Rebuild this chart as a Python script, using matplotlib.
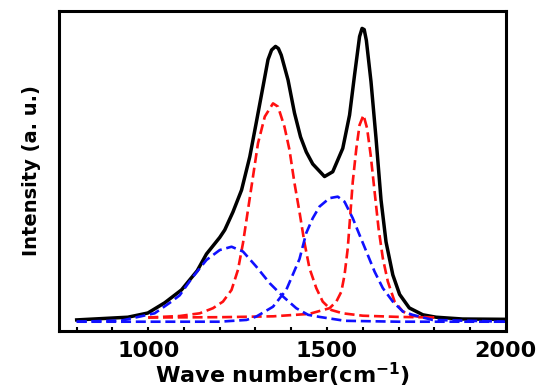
import matplotlib
matplotlib.use("Agg")
import matplotlib.pyplot as plt
from matplotlib.ticker import MultipleLocator

# values (intensity in arbitrary units)
total_x = [800, 943, 999, 1046, 1093, 1137, 1163, 1200, 1214, 1237, 1261,
           1284, 1302, 1321, 1335, 1345, 1356, 1364, 1372, 1391, 1409, 1426,
           1442, 1460, 1493, 1516, 1544, 1563, 1577, 1591, 1598, 1604, 1610,
           1623, 1637, 1651, 1665, 1684, 1703, 1730, 1768, 1805, 1879, 2000]
total_y = [0.0, 0.009, 0.023, 0.057, 0.10, 0.164, 0.22, 0.275, 0.30, 0.36,
           0.433, 0.544, 0.657, 0.778, 0.868, 0.9, 0.912, 0.905, 0.883, 0.80,
           0.69, 0.61, 0.56, 0.52, 0.478, 0.494, 0.572, 0.683, 0.817, 0.945,
           0.972, 0.968, 0.932, 0.794, 0.606, 0.40, 0.26, 0.15, 0.085, 0.04,
           0.017, 0.009, 0.003, 0.002]

d_band_x = [1000, 1088, 1144, 1181, 1209, 1233, 1251, 1265, 1279, 1293, 1307,
            1326, 1349, 1363, 1381, 1395, 1409, 1423, 1437, 1451, 1470, 1488,
            1512, 1544, 1600, 1700, 1800]
d_band_y = [0.008, 0.013, 0.022, 0.039, 0.061, 0.10, 0.167, 0.256, 0.367,
            0.478, 0.589, 0.678, 0.722, 0.711, 0.644, 0.567, 0.456, 0.36,
            0.257, 0.172, 0.106, 0.061, 0.033, 0.022, 0.014, 0.01, 0.008]

g_band_x = [1000, 1200, 1350, 1450, 1507, 1526, 1540, 1549, 1558, 1565, 1572,
            1582, 1591, 1602, 1612, 1622, 1633, 1644, 1656, 1670, 1689, 1712,
            1740, 1777, 1800]
g_band_y = [0.008, 0.009, 0.012, 0.02, 0.039, 0.061, 0.094, 0.15, 0.239, 0.35,
            0.461, 0.572, 0.65, 0.683, 0.639, 0.55, 0.428, 0.306, 0.206, 0.128,
            0.061, 0.028, 0.013, 0.009, 0.008]

band1_x = [800, 926, 1018, 1065, 1088, 1125, 1163, 1200, 1233, 1265, 1302,
           1340, 1377, 1414, 1447, 1479, 1550, 1700, 2000]
band1_y = [-0.006, -0.002, 0.022, 0.061, 0.082, 0.144, 0.20, 0.233, 0.244,
           0.228, 0.178, 0.122, 0.078, 0.039, 0.017, 0.01, -0.003, -0.006,
           -0.006]

band2_x = [800, 1200, 1275, 1302, 1349, 1386, 1423, 1442, 1460, 1479, 1507,
           1530, 1549, 1572, 1591, 1610, 1633, 1656, 1684, 1712, 1739, 1795,
           2000]
band2_y = [-0.006, -0.006, 0.0, 0.011, 0.044, 0.10, 0.203, 0.29, 0.339, 0.378,
           0.406, 0.411, 0.394, 0.339, 0.283, 0.228, 0.161, 0.106, 0.061, 0.028,
           0.017, 0.0, -0.006]

plt.rcParams["font.family"] = "DejaVu Sans"
plt.rcParams["font.weight"] = "bold"

fig = plt.figure(figsize=(5.41, 3.92), dpi=100)
ax = fig.add_axes([0.1087, 0.1556, 0.8263, 0.8163])

dash = dict(linewidth=1.9, linestyle=(0, (3.8, 1.8)))
ax.plot(total_x, total_y, color="black", linewidth=2.5,
        solid_joinstyle="round")
ax.plot(d_band_x, d_band_y, color="#ff1010", **dash)
ax.plot(g_band_x, g_band_y, color="#ff1010", **dash)
ax.plot(band1_x, band1_y, color="#1010ff", **dash)
ax.plot(band2_x, band2_y, color="#1010ff", **dash)

ax.set_xlim(750, 2000)
ax.set_ylim(-0.037, 1.03)
ax.xaxis.set_major_locator(MultipleLocator(500))
ax.xaxis.set_minor_locator(MultipleLocator(100))
ax.set_yticks([])
ax.tick_params(axis="x", which="both", direction="in", top=False,
               length=3, width=1.5, pad=7, labelsize=16)
for lab in ax.get_xticklabels():
    lab.set_fontweight("bold")
for sp in ax.spines.values():
    sp.set_linewidth(2.2)

ax.set_xlabel("Wave number(cm$^{\\mathbf{-1}}$)", fontsize=16,
              fontweight="bold", labelpad=0)
ax.set_ylabel("Intensity (a. u.)", fontsize=14, fontweight="bold", labelpad=13)

fig.savefig("out.png", dpi=100)
